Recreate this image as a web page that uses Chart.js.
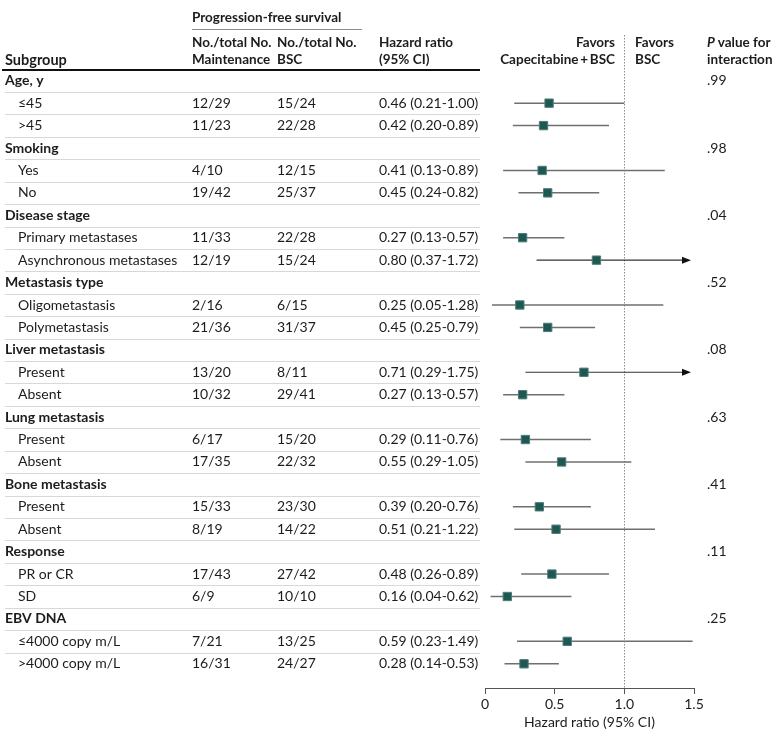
<!DOCTYPE html>
<html>
<head>
<meta charset="utf-8">
<script src="https://cdn.jsdelivr.net/npm/chart.js@4.4.1/dist/chart.umd.min.js"></script>
<style>
  html, body { margin: 0; padding: 0; background: #fff; }
  #wrap { width: 780px; height: 740px; }
</style>
</head>
<body>
<div id="wrap"><canvas id="forestChart" width="780" height="740"></canvas></div>
<script>
const groupNames = ['Age, y', 'Smoking', 'Disease stage', 'Metastasis type', 'Liver metastasis',
  'Lung metastasis', 'Bone metastasis', 'Response', 'EBV DNA'];
const pValues = ['.99', '.98', '.04', '.52', '.08', '.63', '.41', '.11', '.25'];

const subgroupLabels = ['≤45', '>45', 'Yes', 'No', 'Primary metastases', 'Asynchronous metastases',
  'Oligometastasis', 'Polymetastasis', 'Present', 'Absent', 'Present', 'Absent',
  'Present', 'Absent', 'PR or CR', 'SD', '≤4000 copy m/L', '>4000 copy m/L'];
const maintenanceCounts = ['12/29', '11/23', '4/10', '19/42', '11/33', '12/19', '2/16', '21/36', '13/20',
  '10/32', '6/17', '17/35', '15/33', '8/19', '17/43', '6/9', '7/21', '16/31'];
const bscCounts = ['15/24', '22/28', '12/15', '25/37', '22/28', '15/24', '6/15', '31/37', '8/11',
  '29/41', '15/20', '22/32', '23/30', '14/22', '27/42', '10/10', '13/25', '24/27'];
const hrLabels = ['0.46 (0.21-1.00)', '0.42 (0.20-0.89)', '0.41 (0.13-0.89)', '0.45 (0.24-0.82)',
  '0.27 (0.13-0.57)', '0.80 (0.37-1.72)', '0.25 (0.05-1.28)', '0.45 (0.25-0.79)', '0.71 (0.29-1.75)',
  '0.27 (0.13-0.57)', '0.29 (0.11-0.76)', '0.55 (0.29-1.05)', '0.39 (0.20-0.76)', '0.51 (0.21-1.22)',
  '0.48 (0.26-0.89)', '0.16 (0.04-0.62)', '0.59 (0.23-1.49)', '0.28 (0.14-0.53)'];

// plotted values
const hazardRatios = [0.46, 0.42, 0.41, 0.45, 0.27, 0.80, 0.25, 0.45, 0.71, 0.27, 0.29, 0.55, 0.39, 0.51, 0.48, 0.16, 0.59, 0.28];
const ciLower = [0.21, 0.20, 0.13, 0.24, 0.13, 0.37, 0.05, 0.25, 0.29, 0.13, 0.11, 0.29, 0.20, 0.21, 0.26, 0.04, 0.23, 0.14];
const ciUpper = [1.00, 0.89, 1.29, 0.82, 0.57, 1.72, 1.28, 0.79, 1.75, 0.57, 0.76, 1.05, 0.76, 1.22, 0.89, 0.62, 1.49, 0.53];

const xTicks = [0, 0.5, 1.0, 1.5];

const FONT = 'Lato, "Open Sans", sans-serif';
const TEXT = '#1c1c1c';

// each group takes a header row, then its two subgroup rows
const rowOf = (k) => Math.floor(k / 2) * 3 + 1 + (k % 2);

const col = { group: 5, item: 18, maint: 192, bsc: 277, hr: 379, favL: 615, favR: 635, p: 707 };

function text(ctx, str, x, y, weight, align, size) {
  ctx.font = (weight || 'normal') + ' ' + (size || 14) + 'px ' + FONT;
  ctx.textAlign = align || 'left';
  ctx.fillText(str, x, y);
}

const forestTable = {
  id: 'forestTable',
  beforeDraw(chart) {
    const { ctx, scales: { y } } = chart;
    ctx.save();
    ctx.fillStyle = TEXT;
    ctx.textBaseline = 'middle';

    // header
    const hs = 13.5;
    text(ctx, 'Progression-free survival', col.maint, 18, 'bold', 'left', hs);
    ctx.strokeStyle = '#8c8c8c';
    ctx.lineWidth = 1;
    ctx.beginPath(); ctx.moveTo(col.maint, 29.5); ctx.lineTo(362, 29.5); ctx.stroke();

    text(ctx, 'Subgroup', col.group, 60, 'bold', 'left', 14.5);
    text(ctx, 'No./total No.', col.maint, 43, 'bold', 'left', hs);
    text(ctx, 'Maintenance', col.maint, 60, 'bold', 'left', hs);
    text(ctx, 'No./total No.', col.bsc, 43, 'bold', 'left', hs);
    text(ctx, 'BSC', col.bsc, 60, 'bold', 'left', hs);
    text(ctx, 'Hazard ratio', col.hr, 43, 'bold', 'left', hs);
    text(ctx, '(95% CI)', col.hr, 60, 'bold', 'left', hs);
    text(ctx, 'Favors', col.favL, 43, 'bold', 'right', hs);
    text(ctx, 'Capecitabine\u2009+\u2009BSC', col.favL, 60, 'bold', 'right', hs);
    text(ctx, 'Favors', col.favR, 43, 'bold', 'left', hs);
    text(ctx, 'BSC', col.favR, 60, 'bold', 'left', hs);
    ctx.font = 'italic bold ' + hs + 'px ' + FONT;
    ctx.textAlign = 'left';
    ctx.fillText('P', col.p, 43);
    const pw = ctx.measureText('P ').width;
    text(ctx, 'value for', col.p + pw, 43, 'bold', 'left', hs);
    text(ctx, 'interaction', col.p, 60, 'bold', 'left', hs);

    // thick rule under header
    const hy = Math.round(y.getPixelForValue(-0.5));
    ctx.strokeStyle = '#111';
    ctx.lineWidth = 2;
    ctx.beginPath(); ctx.moveTo(2, hy); ctx.lineTo(480, hy); ctx.stroke();

    // light row rules
    ctx.strokeStyle = '#d9d9d2';
    ctx.lineWidth = 1;
    for (let i = 0; i < 26; i++) {
      const ry = Math.round(y.getPixelForValue(i + 0.5)) + 0.5;
      ctx.beginPath(); ctx.moveTo(5, ry); ctx.lineTo(480, ry); ctx.stroke();
    }

    // group rows
    groupNames.forEach((g, gi) => {
      const gy = y.getPixelForValue(gi * 3);
      text(ctx, g, col.group, gy, 'bold');
      text(ctx, pValues[gi], col.p, gy);
    });

    // subgroup rows
    subgroupLabels.forEach((s, k) => {
      const sy = y.getPixelForValue(rowOf(k));
      text(ctx, s, col.item, sy);
      text(ctx, maintenanceCounts[k], col.maint, sy);
      text(ctx, bscCounts[k], col.bsc, sy);
      text(ctx, hrLabels[k], col.hr, sy);
    });
    ctx.restore();
  },
  beforeDatasetsDraw(chart) {
    const { ctx, chartArea, scales: { x, y } } = chart;
    ctx.save();

    // no-effect line at HR = 1
    const x1 = Math.round(x.getPixelForValue(1)) + 0.5;
    ctx.strokeStyle = '#8a8a8a';
    ctx.lineWidth = 1;
    ctx.setLineDash([1.5, 1.5]);
    ctx.beginPath(); ctx.moveTo(x1, chartArea.top); ctx.lineTo(x1, chartArea.bottom); ctx.stroke();
    ctx.setLineDash([]);

    // confidence intervals
    hazardRatios.forEach((v, k) => {
      const py = y.getPixelForValue(rowOf(k));
      const xl = x.getPixelForValue(ciLower[k]);
      const clipped = ciUpper[k] > x.max;
      const xr = clipped ? x.getPixelForValue(x.max) - 3 : x.getPixelForValue(ciUpper[k]);
      ctx.strokeStyle = clipped ? '#333' : '#6f6f6f';
      ctx.lineWidth = clipped ? 1.2 : 1.5;
      ctx.beginPath(); ctx.moveTo(xl, py); ctx.lineTo(clipped ? xr - 6 : xr, py); ctx.stroke();
      if (clipped) {
        ctx.fillStyle = '#111';
        ctx.beginPath();
        ctx.moveTo(xr, py);
        ctx.lineTo(xr - 9, py - 3.5);
        ctx.lineTo(xr - 9, py + 3.5);
        ctx.closePath();
        ctx.fill();
      }
    });
    ctx.restore();
  }
};

Chart.defaults.font.family = FONT;
Chart.defaults.font.size = 14;
Chart.defaults.color = TEXT;

new Chart(document.getElementById('forestChart').getContext('2d'), {
  type: 'scatter',
  data: {
    datasets: [{
      label: 'Hazard ratio',
      data: hazardRatios.map((v, k) => ({ x: v, y: rowOf(k) })),
      pointStyle: 'rect',
      pointRadius: 5.9,
      pointHoverRadius: 5.9,
      backgroundColor: '#1f5753',
      borderColor: '#4d7d79',
      borderWidth: 1
    }]
  },
  options: {
    responsive: false,
    devicePixelRatio: 1,
    animation: false,
    layout: { padding: { left: 485, right: 86, top: 35, bottom: 9 } },
    scales: {
      x: {
        type: 'linear',
        min: 0,
        max: 1.5,
        afterBuildTicks: (scale) => { scale.ticks = xTicks.map((v) => ({ value: v })); },
        border: { display: true, color: '#555', width: 1 },
        grid: { display: true, drawOnChartArea: false, drawTicks: true, tickLength: 6, color: '#555' },
        ticks: {
          padding: 2,
          color: TEXT,
          font: { size: 14 },
          callback: (v) => (v === 0 ? '0' : Number(v).toFixed(1))
        },
        title: { display: true, text: 'Hazard ratio (95% CI)', color: TEXT, font: { size: 14 }, padding: 0 },
        afterFit: (scale) => { scale.height = 43; }
      },
      y: {
        display: false,
        reverse: true,
        min: -2.04,
        max: 27.08
      }
    },
    plugins: {
      legend: { display: false },
      tooltip: { enabled: false }
    }
  },
  plugins: [forestTable]
});
</script>
</body>
</html>
